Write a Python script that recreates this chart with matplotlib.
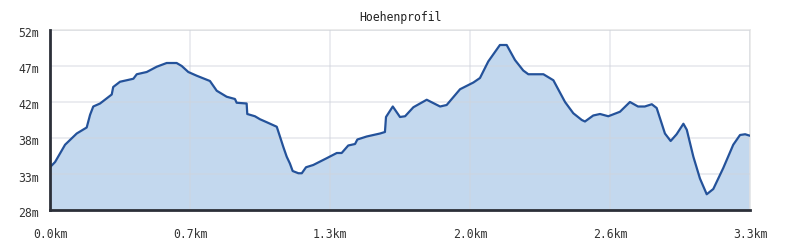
import matplotlib
matplotlib.use("Agg")
import matplotlib.pyplot as plt
from matplotlib.transforms import ScaledTranslation

# distance (km) and elevation (m)
dist_km = [0.000, 0.024, 0.071, 0.126, 0.173, 0.189, 0.204, 0.236, 0.291, 0.298,
           0.330, 0.393, 0.409, 0.456, 0.503, 0.550, 0.597, 0.621, 0.652, 0.692,
           0.754, 0.786, 0.833, 0.872, 0.880, 0.927, 0.930, 0.966, 0.990, 1.022,
           1.069, 1.084, 1.100, 1.116, 1.131, 1.144, 1.171, 1.187, 1.207, 1.241,
           1.304, 1.352, 1.375, 1.406, 1.438, 1.449, 1.493, 1.556, 1.579, 1.584,
           1.616, 1.650, 1.674, 1.713, 1.776, 1.839, 1.870, 1.933, 1.996, 2.027,
           2.066, 2.121, 2.153, 2.192, 2.231, 2.255, 2.326, 2.373, 2.428, 2.467,
           2.507, 2.522, 2.561, 2.593, 2.632, 2.687, 2.734, 2.772, 2.804, 2.837,
           2.860, 2.899, 2.926, 2.954, 2.986, 3.002, 3.033, 3.064, 3.096, 3.127,
           3.174, 3.221, 3.253, 3.277, 3.300]
elev_m = [33.7, 34.4, 36.7, 38.2, 39.0, 40.7, 41.8, 42.2, 43.4, 44.4,
          45.1, 45.5, 46.1, 46.4, 47.1, 47.6, 47.6, 47.2, 46.4, 45.9,
          45.2, 43.9, 43.1, 42.8, 42.3, 42.2, 40.8, 40.5, 40.1, 39.7,
          39.1, 37.8, 36.4, 35.1, 34.2, 33.2, 32.9, 32.9, 33.7, 34.0,
          34.9, 35.6, 35.6, 36.6, 36.8, 37.4, 37.8, 38.2, 38.4, 40.4,
          41.8, 40.4, 40.5, 41.7, 42.7, 41.8, 42.0, 44.1, 45.0, 45.6,
          47.8, 50.0, 50.0, 48.0, 46.6, 46.1, 46.1, 45.3, 42.4, 40.9,
          40.0, 39.8, 40.6, 40.8, 40.5, 41.1, 42.4, 41.8, 41.8, 42.1,
          41.6, 38.2, 37.2, 38.1, 39.5, 38.7, 35.1, 32.2, 30.1, 30.8,
          33.6, 36.7, 38.0, 38.1, 37.9]

x_ticks = [0.0, 0.66, 1.32, 1.98, 2.64, 3.3]
x_labels = ["0.0km", "0.7km", "1.3km", "2.0km", "2.6km", "3.3km"]
y_ticks = [28.0, 32.8, 37.6, 42.4, 47.2, 52.0]
y_labels = ["28m", "33m", "38m", "42m", "47m", "52m"]
title = "Hoehenprofil"

mono = "DejaVu Sans Mono"
fs = 8.3
fig = plt.figure(figsize=(8, 2.5), dpi=100)
ax = fig.add_axes([0.0625, 0.16, 0.875, 0.72])
ax.set_xlim(0, 3.3)
ax.set_ylim(28, 52)

ax.fill_between(dist_km, elev_m, 28, color="#c3d8ee", zorder=1, linewidth=0)
ax.plot(dist_km, elev_m, color="#24529a", linewidth=1.6, zorder=3)

ax.set_xticks(x_ticks)
ax.set_xticklabels(x_labels, fontfamily=mono, fontsize=fs, color="#333333")
ax.set_yticks(y_ticks)
ax.set_yticklabels(y_labels, fontfamily=mono, fontsize=fs, color="#333333")
ax.tick_params(length=0)
ax.tick_params(axis="y", pad=8)
ax.tick_params(axis="x", pad=13)
shift = ScaledTranslation(0, -2.5 / 100, fig.dpi_scale_trans)
for lbl in ax.get_yticklabels():
    lbl.set_transform(lbl.get_transform() + shift)
ax.grid(True, color="#d0d4dc", alpha=0.5, linewidth=1.2, zorder=2)
ax.set_axisbelow(False)

for s in ["top", "right"]:
    ax.spines[s].set_color("#e8e8e8")
    ax.spines[s].set_linewidth(1.2)
for s in ["left", "bottom"]:
    ax.spines[s].set_color("#2b2f38")
    ax.spines[s].set_linewidth(2)
    ax.spines[s].set_zorder(4)

fig.text(0.5, 0.93, title, ha="center", va="center", fontfamily=mono,
         fontsize=fs, color="#222222")

fig.savefig("out.png", dpi=100, facecolor="white")
